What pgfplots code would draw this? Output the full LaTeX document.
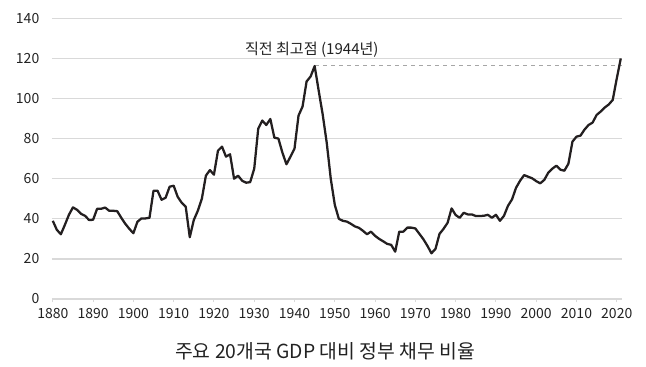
\documentclass[border=0pt]{standalone}
\usepackage{fontspec}
\setmainfont{Noto Sans CJK KR}
\usepackage{pgfplots}
\pgfplotsset{compat=1.18}
\definecolor{lineC}{HTML}{231F20}
\definecolor{gridC}{HTML}{D9D9D9}
\definecolor{txtC}{HTML}{222222}
\begin{document}
\begin{tikzpicture}[x=1pt,y=1pt]
\useasboundingbox (0,0) rectangle (484.5,275.25);
\begin{axis}[
  at={(39pt,51pt)}, anchor=south west,
  scale only axis, width=427.5pt, height=210.5pt,
  xmin=1879.8, xmax=2021.3, ymin=0, ymax=140,
  axis x line*=bottom, axis y line*=left,
  y axis line style={draw=none},
  x axis line style={gridC, line width=1.1pt},
  ymajorgrids, grid style={gridC, line width=0.9pt},
  ytick={0,20,...,140},
  xtick={1880,1890,...,2020},
  tick align=outside, major tick length=2.5pt,
  xtick style={gridC, line width=0.8pt},
  ytick style={draw=none},
  tick label style={font=\fontsize{10.5}{12}\selectfont, text=txtC},
  /pgf/number format/assume math mode=true,
  /pgf/number format/1000 sep={},
  xticklabel style={yshift=-0.75pt},
  yticklabel style={xshift=-3.5pt},
  clip=false,
]
\addplot[gray!70, dashed, line width=0.6pt] coordinates {(1945.1,116.5) (2021.2,116.5)};
\addplot[lineC, line width=1.7pt, line join=round] table {
x y
1880 39
1881 34.5
1882 32.3
1883 37
1884 42
1885 45.7
1886 44.5
1887 42.5
1888 41.5
1889 39.4
1890 39.5
1891 45
1892 45
1893 45.6
1894 44
1895 44
1896 43.8
1897 40.5
1898 37.5
1899 35
1900 32.8
1901 38.5
1902 40.2
1903 40.2
1904 40.5
1905 54
1906 54
1907 49.5
1908 50.5
1909 56
1910 56.5
1911 51
1912 48
1913 46
1914 30.8
1915 39.4
1916 44
1917 50
1918 61.5
1919 64.3
1920 62
1921 74
1922 76
1923 71
1924 72.2
1925 60
1926 61.5
1927 59
1928 58
1929 58.3
1930 65
1931 85
1932 89
1933 86.8
1934 89.8
1935 80.5
1936 80
1937 73
1938 67.2
1939 71
1940 75
1941 91.5
1942 96
1943 108.5
1944 111
1945 116.2
1946 104
1947 92
1948 78
1949 60
1950 47
1951 40
1952 39
1953 38.6
1954 37.5
1955 36.2
1956 35.5
1957 34
1958 32.3
1959 33.6
1960 31.5
1961 30
1962 28.8
1963 27.5
1964 27
1965 23.6
1966 33.6
1967 33.6
1968 35.6
1969 35.6
1970 35.2
1971 32.5
1972 29.8
1973 26.5
1974 22.8
1975 25
1976 32.5
1977 35
1978 38
1979 45.2
1980 41.9
1981 40.5
1982 43
1983 42.2
1984 42.2
1985 41.4
1986 41.4
1987 41.5
1988 42
1989 40.5
1990 42
1991 39
1992 41.5
1993 46.5
1994 49.7
1995 55.5
1996 59
1997 61.8
1998 61
1999 60.2
2000 58.8
2001 57.7
2002 59.4
2003 63
2004 65
2005 66.5
2006 64.5
2007 64
2008 67.5
2009 78.5
2010 81
2011 81.5
2012 84.5
2013 86.8
2014 88
2015 91.8
2016 93.5
2017 95.5
2018 97
2019 99.3
2020 110
2021 120
};
\node[font=\fontsize{11.3}{13}\selectfont, text=txtC] at (axis cs:1944.3,124.2) {직전 최고점 (1944년)};
\end{axis}
\node[font=\fontsize{14.5}{17}\selectfont, text=txtC] at (243.75,12) {주요 20개국 GDP 대비 정부 채무 비율};
\end{tikzpicture}
\end{document}
